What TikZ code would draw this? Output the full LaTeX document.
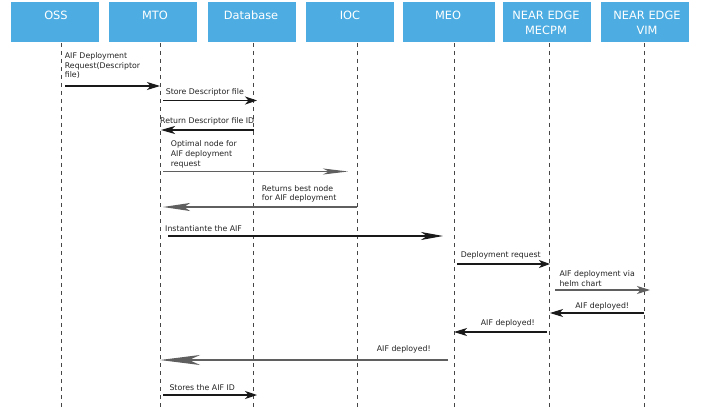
\documentclass[tikz,border=0pt]{standalone}
\usepackage{fontspec}
\setmainfont{DejaVu Sans}
\usetikzlibrary{arrows.meta}
\definecolor{hdrblue}{RGB}{77,173,226}
\definecolor{msgdark}{RGB}{25,25,25}
\definecolor{msggrey}{RGB}{95,95,95}
\definecolor{lifegrey}{RGB}{70,70,70}
\definecolor{lbltext}{RGB}{35,35,35}
\begin{document}
\begin{tikzpicture}[x=1pt,y=-1pt,
  hdrbox/.style={draw=none, fill=hdrblue, minimum width=88pt, minimum height=40.5pt, inner sep=0pt, outer sep=0pt},
  hdrtext/.style={anchor=north, align=center, inner sep=0pt, text=white, font=\fontsize{11.4}{15}\selectfont},
  life/.style={draw=lifegrey, line width=0.9pt, dash pattern=on 4pt off 4pt},
  msg/.style={draw=msgdark, line width=1.05pt},
  msgg/.style={draw=msggrey, line width=1.05pt},
  lbl/.style={inner sep=0pt, text=lbltext, font=\fontsize{7.8}{9.7}\selectfont, align=left},
  ah/.style n args={3}{-{Stealth[length=#1pt,width=#2pt,inset=#3pt]}}
]
\useasboundingbox (0,0) rectangle (703,414);
\fill[white] (0,0) rectangle (703,414);

% header boxes
\node[hdrbox] (hoss) at (55,22.25) {};
\node[hdrbox] (hmto) at (153,22.25) {};
\node[hdrbox] (hdb)  at (252,22.25) {};
\node[hdrbox] (hioc) at (350,22.25) {};
\node[hdrbox, minimum width=92pt] (hmeo) at (448.5,22.25) {};
\node[hdrbox] (hmec) at (547,22.25) {};
\node[hdrbox] (hvim) at (645,22.25) {};

\node[hdrtext] (toss) at (56,10.5) {OSS};
\node[hdrtext] (tmto) at (155,10.5) {MTO};
\node[hdrtext] (tdb)  at (251,10.3) {Database};
\node[hdrtext] (tioc) at (350,10.5) {IOC};
\node[hdrtext] (tmeo) at (448,10.5) {MEO};
\node[hdrtext] (tmec) at (546,10.5) {NEAR EDGE\\MECPM};
\node[hdrtext] (tvim) at (647,10.5) {NEAR EDGE\\VIM};

% lifelines
\coordinate (Loss) at (61,43);    \coordinate (Boss) at (61,408);
\coordinate (Lmto) at (160,43);   \coordinate (Bmto) at (160,408);
\coordinate (Ldb)  at (253.5,43); \coordinate (Bdb)  at (253.5,408);
\coordinate (Lioc) at (357,43);   \coordinate (Bioc) at (357,408);
\coordinate (Lmeo) at (454,43);   \coordinate (Bmeo) at (454,408);
\coordinate (Lmec) at (549,43);   \coordinate (Bmec) at (549,408);
\coordinate (Lvim) at (644,43);   \coordinate (Bvim) at (644,408);
\draw[life] (Loss) -- (Boss);
\draw[life] (Lmto) -- (Bmto);
\draw[life] (Ldb) -- (Bdb);
\draw[life] (Lioc) -- (Bioc);
\draw[life] (Lmeo) -- (Bmeo);
\draw[life] (Lmec) -- (Bmec);
\draw[life] (Lvim) -- (Bvim);

% messages
\draw[msg, ah={13}{8}{3.5}]  ([xshift=4pt]Loss |- 0,86) -- (Lmto |- 0,86);
\draw[msg, ah={12}{8}{3.5}]  ([xshift=3pt]Lmto |- 0,100.5) -- ([xshift=3.5pt]Ldb |- 0,100.5);
\draw[msg, ah={14}{8}{4}]    (Ldb |- 0,130) -- ([xshift=1pt]Lmto |- 0,130);
\draw[msgg, ah={25}{6}{6}]   ([xshift=3pt]Lmto |- 0,171.5) -- ([xshift=-9pt]Lioc |- 0,171.5);
\draw[msgg, ah={27}{8}{6}]   (Lioc |- 0,207) -- ([xshift=3pt]Lmto |- 0,207);
\draw[msg, ah={22}{8}{6}]    ([xshift=8pt]Lmto |- 0,236) -- ([xshift=-11pt]Lmeo |- 0,236);
\draw[msg, ah={11}{8}{3}]    ([xshift=3pt]Lmeo |- 0,264) -- ([xshift=1pt]Lmec |- 0,264);
\draw[msgg, ah={13}{8}{3.5}] ([xshift=6pt]Lmec |- 0,290) -- ([xshift=6pt]Lvim |- 0,290);
\draw[msg, ah={13}{8}{3.5}]  (Lvim |- 0,313) -- ([xshift=1pt]Lmec |- 0,313);
\draw[msg, ah={13}{8}{3.5}]  ([xshift=-2pt]Lmec |- 0,332) -- (Lmeo |- 0,332);
\draw[msgg, ah={40}{10}{11}] ([xshift=-6pt]Lmeo |- 0,360) -- (Lmto |- 0,360);
\draw[msg, ah={12}{8}{3.5}]  ([xshift=3pt]Lmto |- 0,395) -- ([xshift=3.5pt]Ldb |- 0,395);

% labels
\node[lbl, anchor=north west] (l1) at (64.7,52.4) {AIF Deployment\\Request(Descriptor\\file)};
\node[lbl, anchor=base west] (l2) at (165.7,94.3) {Store Descriptor file};
\node[lbl, anchor=base west] (l3) at (160,123.3) {Return Descriptor file ID};
\node[lbl, anchor=north west] (l4) at (170.7,140.7) {Optimal node for\\AIF deployment\\request};
\node[lbl, anchor=north west] (l5) at (261.7,185.1) {Returns best node\\for AIF deployment};
\node[lbl, anchor=base west] (l6) at (165,231.7) {Instantiante the AIF};
\node[lbl, anchor=base west] (l7) at (460.7,257.7) {Deployment request};
\node[lbl, anchor=north west] (l8) at (559.3,270.8) {AIF deployment via\\helm chart};
\node[lbl, anchor=base east] (l9) at (629.3,308.3) {AIF deployed!};
\node[lbl, anchor=base west] (l10) at (480.7,325) {AIF deployed!};
\node[lbl, anchor=base west] (l11) at (376.7,351.7) {AIF deployed!};
\node[lbl, anchor=base west] (l12) at (169.3,390) {Stores the AIF ID};
\end{tikzpicture}
\end{document}
